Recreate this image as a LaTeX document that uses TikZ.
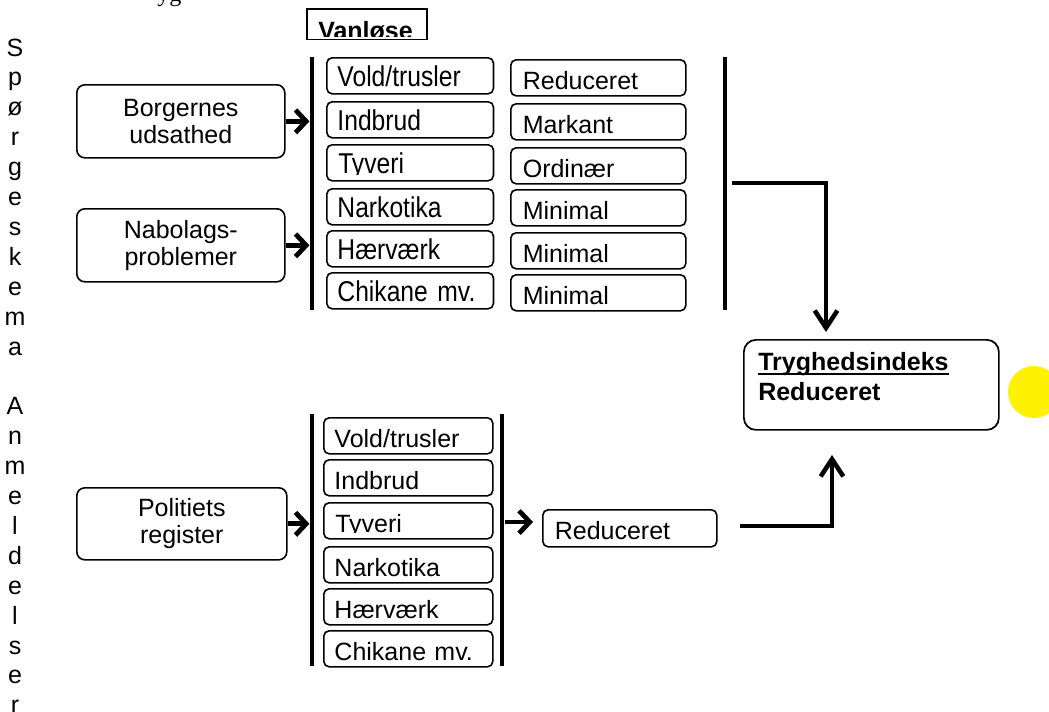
\documentclass[tikz,border=0pt]{standalone}
\usepackage{fontspec}
\setmainfont{Liberation Sans}
\newfontfamily\timesfont{Liberation Serif}
\newfontfamily\tallfont[FakeStretch=0.86]{Liberation Sans}
\usetikzlibrary{arrows.meta,calc}
\newcommand\myul[1]{\setbox0\hbox{#1}\rlap{\rule[-4pt]{\wd0}{1.5pt}}\box0}
\begin{document}
\begin{tikzpicture}[x=0.75pt,y=-0.75pt,
  every node/.style={font=\fontsize{18.75pt}{20.25pt}\selectfont},
  bigbox/.style={draw, rounded corners=6pt, line width=1.2pt, inner sep=0pt,
    minimum width=156pt, minimum height=54.75pt, align=center, anchor=north west},
  catbox/.style={draw, rounded corners=4pt, line width=1.2pt, inner xsep=8pt, inner ysep=0pt,
    minimum height=27pt, text height=16.5pt, text depth=0pt, align=left, anchor=north west,
    text width=109pt},
  tallbox/.style={catbox, font=\tallfont\fontsize{21.5pt}{22pt}\selectfont},
  valbox/.style={catbox, inner xsep=9pt, text width=113.25pt, text height=18pt},
  regbox/.style={catbox, text width=110.75pt, text height=17pt},
  bar/.style={fill=black, inner sep=0pt, minimum width=3.4pt, anchor=north},
  chev/.style={line width=3.6pt, -{Straight Barb[length=8pt,width=17pt]}},
  conn/.style={line width=3.4pt, line join=miter, -{Straight Barb[length=13pt,width=17pt]}},
  letter/.style={anchor=base, inner sep=0pt}
]
\path[fill=white, use as bounding box] (0,0) rectangle (1049,711);

% clipped fragment of a title at the top edge
\node[anchor=base west, inner sep=0pt, font=\timesfont\fontsize{18pt}{20pt}\selectfont] (frag) at (157,1) {yg};

% vertical side labels
\foreach \c [count=\i from 0] in {S,p,ø,r,g,e,s,k,e,m,a}
  \node[letter] (sp\i) at (15,{56+29.9*\i}) {\c};
\foreach \c [count=\i from 12] in {A,n,m,e,l,d,e,l,s,e,r}
  \node[letter] (an\i) at (15,{56+29.9*\i}) {\c};

% Vanløse header
\node[draw, line width=1.2pt, minimum width=90pt, minimum height=23pt, inner sep=0pt, anchor=north west] (van) at (306,8) {};
\begin{scope}
  \clip (308,10) rectangle (425,36.5);
  \node[anchor=base west, inner sep=0pt, font=\bfseries\fontsize{18.75pt}{20pt}\selectfont] (vantxt) at (318,39) {Vanløse};
\end{scope}

% source boxes
\node[bigbox] (borg) at (76,84) {Borgernes\\udsathed};
\node[bigbox] (nabo) at (76,208) {Nabolags-\\problemer};
\node[bigbox, minimum width=157.5pt, minimum height=54pt] (poli) at (76,487) {Politiets\\register};

% bars
\node[bar, minimum height=189.75pt] (barTL) at (312,57) {};
\node[bar, minimum height=189.75pt] (barTR) at (725,57) {};
\node[bar, minimum height=189pt] (barBL) at (312,414) {};
\node[bar, minimum height=189pt] (barBR) at (502,414) {};

% top categories
\node[tallbox] (t1) at (326,57)  {Vold/trusler};
\node[tallbox] (t2) at (326,101) {Indbrud};
\node[tallbox, path picture={
    \clip ([yshift=4.6pt]path picture bounding box.south west) rectangle (path picture bounding box.north east);
    \node[anchor=base west, inner sep=0pt, font=\tallfont\fontsize{21.5pt}{22pt}\selectfont] (t3txt)
      at ([shift={(8pt,5.25pt)}]path picture bounding box.south west) {Tyveri};}] (t3) at (326,144) {};
\node[tallbox] (t4) at (326,188) {Narkotika};
\node[tallbox] (t5) at (326,230) {Hærværk};
\node[tallbox] (t6) at (326,272) {Chikane mv.};

% top values
\node[valbox] (v1) at (510,59)  {Reduceret};
\node[valbox] (v2) at (510,103) {Markant};
\node[valbox] (v3) at (510,147) {Ordinær};
\node[valbox] (v4) at (510,189) {Minimal};
\node[valbox] (v5) at (510,232) {Minimal};
\node[valbox] (v6) at (510,274) {Minimal};

% bottom categories
\node[regbox] (b1) at (323,417) {Vold/trusler};
\node[regbox] (b2) at (323,459) {Indbrud};
\node[regbox, path picture={
    \clip ([yshift=4.4pt]path picture bounding box.south west) rectangle (path picture bounding box.north east);
    \node[anchor=base west, inner sep=0pt] (b3txt)
      at ([shift={(8pt,5pt)}]path picture bounding box.south west) {Tyveri};}] (b3) at (323,502) {};
\node[regbox] (b4) at (323,546) {Narkotika};
\node[regbox] (b5) at (323,588) {Hærværk};
\node[regbox] (b6) at (323,630) {Chikane mv.};

% bottom result
\node[valbox, text width=112.5pt, text height=17pt, minimum height=27.75pt] (red) at (542,509) {Reduceret};

% index box
\node[draw, rounded corners=9pt, line width=1.3pt, minimum width=191.25pt, minimum height=67.5pt, inner sep=0pt, anchor=north west] (tryg) at (743,339) {};
\node[anchor=base west, inner sep=0pt, font=\bfseries\fontsize{18.75pt}{22.5pt}\selectfont] (trygA) at (758,370) {\myul{Tryghedsindeks}};
\node[anchor=base west, inner sep=0pt, font=\bfseries\fontsize{18.75pt}{22.5pt}\selectfont] (trygB) at (758,400) {Reduceret};

% yellow dot
\node[circle, fill=yellow, minimum size=39pt, inner sep=0pt] (dot) at (1034,392) {};

% arrows into bars
\draw[chev] (borg.east) -- (borg.east -| barTL.west);
\draw[chev] (nabo.east) -- (nabo.east -| barTL.west);
\draw[chev] (poli.east) -- (poli.east -| barBL.west);
\draw[chev] (barBR.east |- 0,522) -- ($(red.west |- 0,522)+(-9,0)$);

% connectors to the index
\coordinate (c1) at (732,183);
\coordinate (e1) at (826,332);
\draw[conn] (c1) -| (e1);
\coordinate (c2) at (740,526);
\coordinate (e2) at (832,455);
\draw[conn] (c2) -| (e2);
\end{tikzpicture}
\end{document}
